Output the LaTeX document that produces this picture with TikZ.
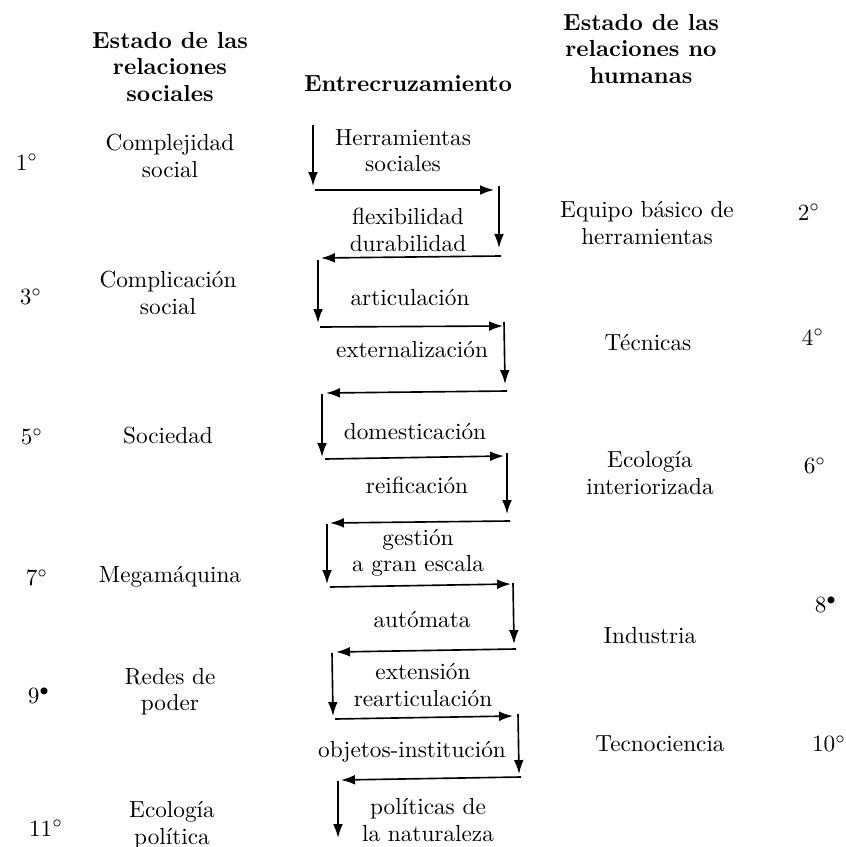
\documentclass[tikz,border=0pt]{standalone}
\usetikzlibrary{arrows.meta}
\begin{document}
\begin{tikzpicture}[x=0.43pt,y=-0.43pt,
  lab/.style={font=\fontsize{10}{11.3}\selectfont, align=center, inner sep=0pt},
  head/.style={font=\bfseries\fontsize{10}{11.3}\selectfont, align=center, inner sep=0pt},
  ord/.style={font=\fontsize{10}{11.3}\selectfont, inner sep=0pt},
  arr/.style={-{Latex[length=6pt,width=4.2pt]}, line width=0.7pt}]
\useasboundingbox (0,0) rectangle (846,847);
% headers
\node[head] (hL) at (170,67) {Estado de las\\relaciones\\sociales};
\node[head] (hM) at (408,84) {Entrecruzamiento};
\node[head] (hR) at (641,49) {Estado de las\\relaciones no\\humanas};
% left column
\node[ord] (o1) at (27,162) {1$^{\circ}$};
\node[lab] (l1) at (170,156) {Complejidad\\social};
\node[ord] (o3) at (31,297) {3$^{\circ}$};
\node[lab] (l3) at (168,293) {Complicación\\social};
\node[ord] (o5) at (32,437) {5$^{\circ}$};
\node[lab] (l5) at (168,436) {Sociedad};
\node[ord] (o7) at (37,578) {7$^{\circ}$};
\node[lab] (l7) at (170,577) {Megamáquina};
\node[ord] (o9) at (39,696) {9$^{\bullet}$};
\node[lab] (l9) at (170,692) {Redes de\\poder};
\node[ord] (o11) at (46,828) {11$^{\circ}$};
\node[lab] (l11) at (172,825) {Ecología\\política};
% right column
\node[lab] (r2) at (647,223) {Equipo básico de\\herramientas};
\node[ord] (o2) at (809,212) {2$^{\circ}$};
\node[lab] (r4) at (648,343) {Técnicas};
\node[ord] (o4) at (813,337) {4$^{\circ}$};
\node[lab] (r6) at (650,473) {Ecología\\interiorizada};
\node[ord] (o6) at (815,466) {6$^{\circ}$};
\node[lab] (r8) at (650,636) {Industria};
\node[ord] (o8) at (826,605) {8$^{\bullet}$};
\node[lab] (r10) at (660,744) {Tecnociencia};
\node[ord] (o10) at (829,744) {10$^{\circ}$};
% middle labels
\node[lab] (m1) at (403,151) {Herramientas\\sociales};
\node[lab] (m2) at (408,230) {flexibilidad\\durabilidad};
\node[lab] (m3) at (410,298) {articulación};
\node[lab] (m4) at (412,350) {externalización};
\node[lab] (m5) at (415,432) {domesticación};
\node[lab] (m6) at (417,485) {reificación};
\node[lab] (m7) at (418,553) {gestión\\a gran escala};
\node[lab] (m8) at (422,620) {autómata};
\node[lab] (m9) at (423,685) {extensión\\rearticulación};
\node[lab] (m10) at (412,752) {objetos-institución};
\node[lab] (m11) at (428,820) {políticas de\\la naturaleza};
% zigzag coordinates
\coordinate (a0) at (313,125); \coordinate (a1) at (313,186);
\coordinate (b0) at (315,190); \coordinate (b1) at (494,190);
\coordinate (c0) at (499,186); \coordinate (c1) at (499,248);
\coordinate (d0) at (501,256); \coordinate (d1) at (321,258);
\coordinate (e0) at (318,260); \coordinate (e1) at (318,323);
\coordinate (f0) at (320,327); \coordinate (f1) at (503,326);
\coordinate (g0) at (504,322); \coordinate (g1) at (505,384);
\coordinate (h0) at (507,391); \coordinate (h1) at (326,393);
\coordinate (i0) at (322,394); \coordinate (i1) at (322,457);
\coordinate (j0) at (325,459); \coordinate (j1) at (504,456);
\coordinate (k0) at (507,453); \coordinate (k1) at (507,514);
\coordinate (l0) at (510,521); \coordinate (l1) at (330,523);
\coordinate (n0) at (327,524); \coordinate (n1) at (327,584);
\coordinate (p0) at (330,587); \coordinate (p1) at (511,584);
\coordinate (q0) at (513,583); \coordinate (q1) at (514,644);
\coordinate (r0) at (516,649); \coordinate (r1) at (336,652);
\coordinate (s0) at (332,653); \coordinate (s1) at (333,716);
\coordinate (t0) at (335,719); \coordinate (t1) at (513,716);
\coordinate (u0) at (518,714); \coordinate (u1) at (519,774);
\coordinate (v0) at (521,777); \coordinate (v1) at (341,780);
\coordinate (w0) at (338,781); \coordinate (w1) at (338,838);
\foreach \p in {a,b,c,d,e,f,g,h,i,j,k,l,n,p,q,r,s,t,u,v,w}
  \draw[arr] (\p0) -- (\p1);
\end{tikzpicture}
\end{document}
